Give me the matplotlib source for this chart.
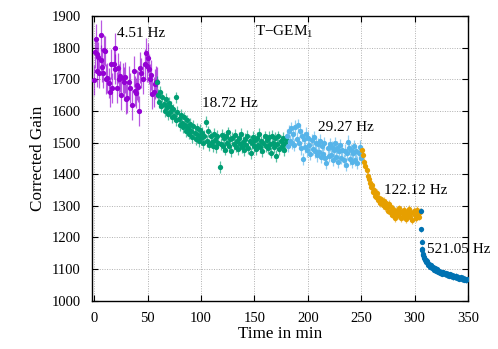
import matplotlib
matplotlib.use("Agg")
import matplotlib.pyplot as plt
from matplotlib.colors import to_rgba

# Corrected gain of T-GEM1 over time, five rate steps
T_451 = [0, 0.5, 1.5, 2.5, 3, 4, 5, 6, 6.8, 7.6, 8.4, 9.5, 10.5, 11.5, 12.5, 13.5, 14.5,
         16, 17.2, 18.2, 19.2, 20, 21, 22.2, 23.5, 24.5, 25.4, 26.9, 28, 29.1, 30.2, 31.2,
         32.5, 33.8, 35, 36.9, 37.9, 39, 40, 41, 41.9, 43.2, 44.1, 45.5, 47.2, 48.8, 49.4,
         50.5, 51.3, 52.5, 53.5, 54.4, 55.7, 56.6, 57.5, 58.5]
G_451 = [1697, 1785, 1828, 1780, 1725, 1769, 1720, 1839, 1762, 1740, 1720, 1793, 1790, 1700,
         1704, 1688, 1660, 1748, 1672, 1748, 1800, 1733, 1674, 1735, 1700, 1709, 1651, 1704,
         1690, 1706, 1637, 1642, 1693, 1672, 1619, 1725, 1663, 1656, 1682, 1677, 1600, 1737,
         1720, 1700, 1748, 1783, 1741, 1767, 1733, 1700, 1714, 1654, 1660, 1685, 1693, 1690]

T_1872 = [59, 60, 61, 62, 63, 64, 65, 66, 67, 68, 69, 70, 71, 72, 73, 74, 75, 76.3, 77, 78,
          79, 80, 81, 82, 83, 84, 85, 86, 87, 88, 89, 90, 91, 92, 93, 94, 95, 96, 97, 98, 99,
          100, 101, 102, 103, 105, 106, 107, 108, 109, 110, 111, 112, 113, 114, 115, 116,
          117.5, 118.5, 119.5, 120.5, 121.5, 122.5, 123.5, 124.5, 125.5, 126.5, 127.5, 128.5,
          129.5, 130.5, 131.5, 132.5, 133.5, 134.5, 135.5, 136.5, 137.5, 138.5, 139.5, 140.5,
          141.5, 142.5, 143.5, 144.5, 145.5, 146.5, 147.5, 148.5, 149.5, 150.5, 151.5, 152.5,
          153.5, 154.5, 155.5, 156.5, 157.5, 158.5, 159.5, 160.5, 161.5, 162.5, 163.5, 164.5,
          165.5, 166.5, 167.5, 168.5, 169.5, 170.5, 171.5, 172.5, 173.5, 174.5, 175.5, 176.5,
          177.5, 178.5, 179.5]
G_1872 = [1693, 1650, 1628, 1660, 1615, 1645, 1622, 1600, 1638, 1612, 1590, 1625, 1598, 1612,
          1580, 1605, 1585, 1643, 1570, 1598, 1575, 1555, 1588, 1562, 1548, 1580, 1555, 1535,
          1570, 1545, 1528, 1560, 1538, 1518, 1552, 1530, 1510, 1545, 1525, 1505, 1540, 1515,
          1530, 1498, 1522, 1566, 1505, 1535, 1492, 1520, 1502, 1488, 1528, 1508, 1485, 1522,
          1500, 1423, 1495, 1525, 1488, 1515, 1478, 1520, 1500, 1532, 1490, 1510, 1472, 1515,
          1496, 1524, 1487, 1506, 1480, 1514, 1494, 1527, 1485, 1503, 1476, 1511, 1493, 1522,
          1482, 1506, 1466, 1498, 1517, 1488, 1508, 1479, 1514, 1493, 1528, 1486, 1504, 1473,
          1500, 1520, 1489, 1509, 1482, 1517, 1494, 1468, 1522, 1500, 1486, 1514, 1458, 1494,
          1520, 1480, 1506, 1488, 1514, 1477, 1499, 1510]

T_2927 = [180.5, 181.5, 182.5, 183.5, 184.5, 185.5, 186.5, 187.5, 188.5, 189.5, 190.5, 191.5,
          192.5, 193.5, 194.5, 195.5, 196.5, 197.5, 198.5, 199.5, 200.5, 201.5, 202.5, 203.5,
          204.5, 205.5, 206.5, 207.5, 208.5, 209.5, 210.5, 211.5, 212.5, 213.5, 214.5, 215.5,
          216.5, 217.5, 218.5, 219.5, 220.5, 221.5, 222.5, 223.5, 224.5, 225.5, 226.5, 227.5,
          228.5, 229.5, 230.5, 231.5, 232.5, 233.5, 234.5, 235.5, 236.5, 237.5, 238.5, 239.5,
          240.5, 241.5, 242.5, 243.5, 244.5, 245.5, 246.5, 247.5, 248.5, 249.5]
G_2927 = [1522, 1490, 1535, 1505, 1545, 1500, 1528, 1492, 1550, 1512, 1556, 1500, 1538, 1482,
          1522, 1448, 1512, 1486, 1528, 1475, 1515, 1492, 1465, 1508, 1480, 1518, 1472, 1500,
          1460, 1494, 1470, 1506, 1455, 1488, 1465, 1498, 1450, 1435, 1482, 1458, 1494, 1462,
          1486, 1446, 1478, 1498, 1455, 1484, 1440, 1474, 1492, 1452, 1478, 1444, 1474, 1430,
          1466, 1503, 1484, 1448, 1476, 1440, 1468, 1488, 1446, 1472, 1436, 1466, 1487, 1452]

T_12212 = [251, 252, 253, 254, 255, 256, 257, 258, 259, 260, 261, 262, 263, 264, 265, 266, 267,
           268, 269, 270, 271, 272, 273, 274, 275, 276, 277, 278, 279, 280, 281, 282, 283, 284,
           285, 286, 287, 288, 289, 290, 291, 292, 293, 294, 295, 296, 297, 298, 299, 300, 301,
           302, 303, 304, 305]
G_12212 = [1477, 1460, 1440, 1425, 1414, 1395, 1385, 1372, 1360, 1365, 1345, 1350, 1332, 1329,
           1340, 1318, 1325, 1308, 1320, 1302, 1315, 1295, 1310, 1297, 1285, 1305, 1280, 1295,
           1272, 1290, 1278, 1262, 1285, 1270, 1292, 1282, 1260, 1280, 1268, 1288, 1275, 1258,
           1282, 1270, 1290, 1265, 1278, 1255, 1285, 1272, 1262, 1288, 1275, 1266, 1280]

T_52105 = [305.8, 306.2, 306.5, 306.8, 307.2, 307.6, 308, 308.5, 309, 309.6, 310.2, 311, 311.8,
           312.6, 313.4, 314.2, 315, 316, 317, 318, 319, 320, 321, 322, 323, 324, 325, 326, 327,
           328, 329, 330, 331, 332, 333, 334, 335, 336, 337, 338, 339, 340, 341, 342, 343, 344,
           345, 346, 347, 348, 349.3]
G_52105 = [1284, 1226, 1187, 1165, 1160, 1148, 1145, 1136, 1138, 1128, 1130, 1122, 1124, 1114,
           1116, 1108, 1112, 1103, 1106, 1098, 1102, 1095, 1099, 1091, 1095, 1088, 1092, 1085,
           1090, 1083, 1087, 1081, 1085, 1079, 1083, 1077, 1081, 1075, 1079, 1074, 1078, 1072,
           1076, 1070, 1074, 1068, 1072, 1066, 1070, 1064, 1068]

# per-step gain uncertainty
ERRORS = [48, 18, 20, 12, 8]
COLORS = ["#9400d3", "#009e73", "#56b4e9", "#e69f00", "#0072b2"]
RATE_LABELS = ["4.51 Hz", "18.72 Hz", "29.27 Hz", "122.12 Hz", "521.05 Hz"]
LABEL_POS = [(21, 1846), (101, 1622), (210, 1547), (271, 1348), (312, 1163)]

plt.rcParams["font.family"] = ["Liberation Serif", "DejaVu Serif"]
plt.rcParams["mathtext.fontset"] = "custom"
plt.rcParams["mathtext.rm"] = "Liberation Serif"

fig = plt.figure(figsize=(4.98, 3.49), dpi=100)
ax = fig.add_axes([0.1847, 0.1384, 0.7551, 0.8156])

series = [(T_451, G_451), (T_1872, G_1872), (T_2927, G_2927), (T_12212, G_12212),
          (T_52105, G_52105)]
for (t, g), err, col in zip(series, ERRORS, COLORS):
    ax.errorbar(t, g, yerr=err, fmt="o", color=col, ecolor=to_rgba(col, 0.65),
                markersize=3.8, markeredgewidth=0, elinewidth=0.9, capsize=2,
                capthick=0.9, zorder=3)

for lab, (tx, ty) in zip(RATE_LABELS, LABEL_POS):
    ax.text(tx, ty, lab, ha="left", va="center", fontsize=11, zorder=5)
ax.text(150.5, 1851, "T\u2212GEM$_1$", ha="left", va="center", fontsize=11)

ax.set_xlim(-2, 350)
ax.set_ylim(1000, 1900)
ax.set_xticks(range(0, 351, 50))
ax.set_yticks(range(1000, 1901, 100))
ax.grid(True, color="#b0b0b0", linestyle=(0, (1, 1.5)), linewidth=0.7)
ax.tick_params(direction="in", top=True, right=True, length=4, width=0.8, labelsize=10.5)
ax.tick_params(axis="x", pad=8)
ax.tick_params(axis="y", pad=8)
for s in ax.spines.values():
    s.set_linewidth(1.0)
ax.set_xlabel("Time in min", fontsize=12.3, labelpad=1)
ax.set_ylabel("Corrected Gain", fontsize=12.3, labelpad=4)

fig.savefig("out.png", dpi=100)
